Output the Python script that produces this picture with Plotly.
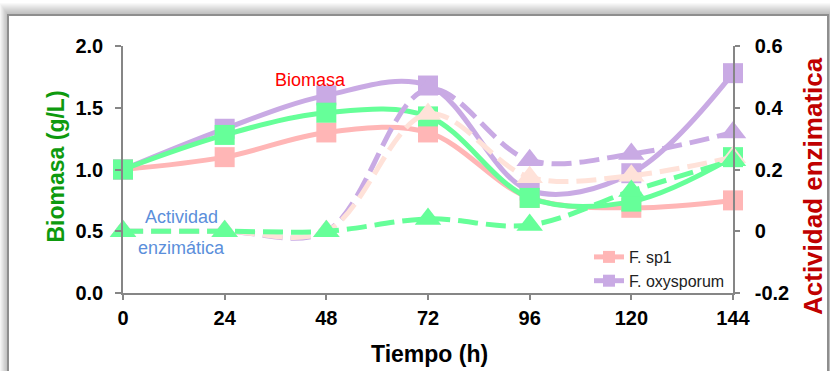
import plotly.graph_objects as go

# ---------------- data ----------------
hours = [0, 24, 48, 72, 96, 120, 144]
x_ticks = [0, 24, 48, 72, 96, 120, 144]

biomasa_sp1 = [1.00, 1.10, 1.30, 1.30, 0.77, 0.69, 0.75]
biomasa_oxy = [1.00, 1.33, 1.60, 1.68, 0.83, 0.97, 1.78]
biomasa_sp2 = [1.00, 1.28, 1.46, 1.43, 0.77, 0.74, 1.10]

actividad_sp1 = [0.00, 0.00, 0.00, 0.38, 0.175, 0.18, 0.24]
actividad_oxy = [0.00, 0.00, 0.00, 0.46, 0.23, 0.25, 0.32]
actividad_sp2 = [0.00, 0.00, 0.00, 0.04, 0.02, 0.13, 0.23]

y_ticks = [0.0, 0.5, 1.0, 1.5, 2.0]
y2_ticks = [-0.2, 0.0, 0.2, 0.4, 0.6]
y2_labels = ["-0.2", "0", "0.2", "0.4", "0.6"]

# ---------------- styles ----------------
PINK = "#FFB6B6"
LAV = "#C9AAE4"
GREEN = "#66FF99"
PEACH = "#FFE2D9"
AXC = "#868686"
FONT = "Liberation Sans, Arial, sans-serif"

W, H = 830, 371
L, R, T, B = 123, 97, 46, 78
PW, PH = W - L - R, H - T - B


def px(x):
    return (x - L) / PW


def py(y):
    return (H - B - y) / PH


fig = go.Figure()


def solid(y, color, name, show):
    fig.add_trace(go.Scatter(
        x=hours, y=y, name=name, showlegend=show, mode="lines+markers",
        line=dict(color=color, width=5, shape="spline", smoothing=1),
        marker=dict(symbol="square", size=20, color=color),
        cliponaxis=False, yaxis="y"))


def dashed(y, color):
    fig.add_trace(go.Scatter(
        x=hours, y=y, showlegend=False, mode="lines+markers",
        line=dict(color=color, width=5, shape="spline", smoothing=1, dash="20px,8px"),
        marker=dict(symbol="triangle-up", size=23, color=color),
        cliponaxis=False, yaxis="y2"))


solid(biomasa_sp1, PINK, "F. sp1", True)
solid(biomasa_oxy, LAV, "F. oxysporum", True)
solid(biomasa_sp2, GREEN, "F. sp2", False)
dashed(actividad_oxy, LAV)
dashed(actividad_sp1, PEACH)
dashed(actividad_sp2, GREEN)

# ---------------- frame with shadow ----------------
shapes = []
for k in range(12, 0, -1):
    shapes.append(dict(type="rect", xref="paper", yref="paper", layer="below",
                       x0=px(8 - k * 0.7), x1=px(830), y0=py(380), y1=py(15 - k),
                       fillcolor="rgba(0,0,0,0.022)", line=dict(width=0)))
shapes.append(dict(type="rect", xref="paper", yref="paper", layer="below",
                   x0=px(8), x1=px(828), y0=py(380), y1=py(15),
                   fillcolor="white", line=dict(color="#8E8E8E", width=2)))

ann = [
    dict(text="<b>Biomasa (g/L)</b>", x=px(55), y=py(166.5), textangle=-90,
         font=dict(size=23, color="#0E9A0E", family=FONT)),
    dict(text="<b>Actividad enzimatica</b>", x=px(813), y=py(186), textangle=-90,
         font=dict(size=26, color="#C00000", family=FONT)),
    dict(text="<b>Tiempo (h)</b>", x=px(429), y=py(354),
         font=dict(size=23, color="black", family=FONT)),
    dict(text="Biomasa", x=px(310), y=py(80),
         font=dict(size=18, color="#FF0000", family=FONT)),
    dict(text="Actividad", x=px(181), y=py(217),
         font=dict(size=18, color="#5B8FDB", family=FONT)),
    dict(text="enzimática", x=px(181), y=py(248),
         font=dict(size=18, color="#5B8FDB", family=FONT)),
]
for a in ann:
    a.update(xref="paper", yref="paper", showarrow=False, xanchor="center", yanchor="middle")

tickfont = dict(size=20, color="black", family=FONT, weight="bold")

fig.update_layout(
    width=W, height=H,
    margin=dict(l=L, r=R, t=T, b=B, pad=0),
    paper_bgcolor="white", plot_bgcolor="white",
    font=dict(family=FONT),
    shapes=shapes, annotations=ann,
    xaxis=dict(range=[0, 144], tickvals=x_ticks, showgrid=False, zeroline=False,
               showline=True, linecolor=AXC, linewidth=1.5,
               ticks="outside", ticklen=5, tickwidth=1.5, tickcolor=AXC,
               tickfont=tickfont, ticklabelstandoff=1),
    yaxis=dict(range=[0, 2], tickvals=y_ticks, tickformat=".1f", showgrid=False,
               zeroline=False, showline=True, linecolor=AXC, linewidth=1.5,
               ticks="outside", ticklen=6, tickwidth=1.5, tickcolor=AXC,
               tickfont=tickfont, ticklabelstandoff=8),
    yaxis2=dict(range=[-0.2, 0.6], tickvals=y2_ticks, ticktext=y2_labels,
                overlaying="y", side="right", anchor="x", showgrid=False,
                zeroline=False, showline=True, linecolor=AXC, linewidth=1.5,
                ticks="outside", ticklen=5, tickwidth=1.5, tickcolor=AXC,
                tickfont=tickfont, ticklabelstandoff=11),
    legend=dict(x=px(589), y=py(240), xanchor="left", yanchor="top",
                bgcolor="rgba(255,255,255,0)", itemsizing="constant",
                font=dict(size=16, color="#222222", family=FONT),
                tracegroupgap=0),
    showlegend=True,
)

fig.write_html("out.html")
